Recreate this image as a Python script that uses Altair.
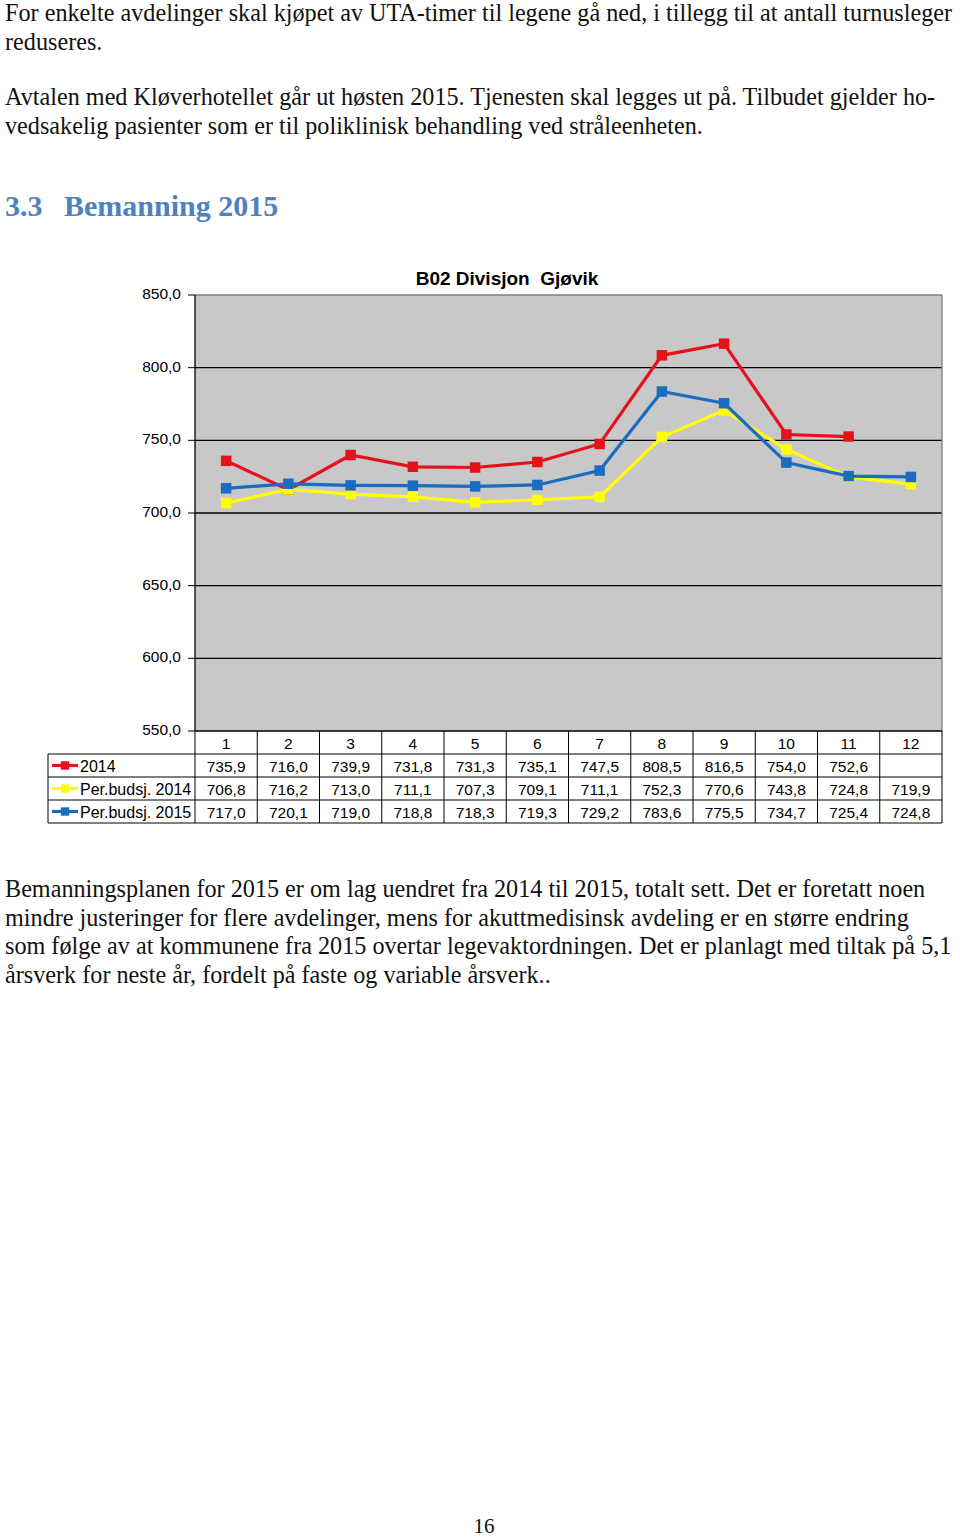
import altair as alt
import pandas as pd

# ---------------- data ----------------
months = list(range(1, 13))
series_names = ["2014", "Per.budsj. 2014", "Per.budsj. 2015"]
v_2014 = [735.9, 716.0, 739.9, 731.8, 731.3, 735.1, 747.5, 808.5, 816.5, 754.0, 752.6, None]
v_pb2014 = [706.8, 716.2, 713.0, 711.1, 707.3, 709.1, 711.1, 752.3, 770.6, 743.8, 724.8, 719.9]
v_pb2015 = [717.0, 720.1, 719.0, 718.8, 718.3, 719.3, 729.2, 783.6, 775.5, 734.7, 725.4, 724.8]
series_colors = ["#E4121B", "#FFFF00", "#1A6CC0"]
y_ticks = [550, 600, 650, 700, 750, 800, 850]
chart_title = "B02 Divisjon\u00a0 Gjøvik"

para1 = [
    "For enkelte avdelinger skal kjøpet av UTA-timer til legene gå ned, i tillegg til at antall turnusleger",
    "reduseres.",
]
para2 = [
    "Avtalen med Kløverhotellet går ut høsten 2015. Tjenesten skal legges ut på. Tilbudet gjelder ho-",
    "vedsakelig pasienter som er til poliklinisk behandling ved stråleenheten.",
]
heading_num = "3.3"
heading_txt = "Bemanning 2015"
para3 = [
    "Bemanningsplanen for 2015 er om lag uendret fra 2014 til 2015, totalt sett. Det er foretatt noen",
    "mindre justeringer for flere avdelinger, mens for akuttmedisinsk avdeling er en større endring",
    "som følge av at kommunene fra 2015 overtar legevaktordningen. Det er planlagt med tiltak på 5,1",
    "årsverk for neste år, fordelt på faste og variable årsverk..",
]
page_no = "16"

# ---------------- tables ----------------
def fmt(v):
    return "" if v is None else f"{v:.1f}".replace(".", ",")

rows = []
for name, vals in zip(series_names, [v_2014, v_pb2014, v_pb2015]):
    for m, v in zip(months, vals):
        rows.append({"month": m, "series": name, "value": v, "label": fmt(v)})
df = pd.DataFrame(rows)
df_valid = df[df["value"].notna()].copy()

ticks_df = pd.DataFrame({"tick": y_ticks, "label": [fmt(float(t)) for t in y_ticks]})
months_df = pd.DataFrame({"month": months, "label": [str(m) for m in months]})
borders_df = pd.DataFrame({"b": [m - 0.5 for m in months] + [12.5]})
span_df = pd.DataFrame({"lo": [min(y_ticks)], "hi": [max(y_ticks)]})
dummy = pd.DataFrame({"d": [0]})

xs = alt.Scale(domain=[0.5, 12.5], range=[195, 942])
ys = alt.Scale(domain=[550, 850], range=[731, 295])
cs = alt.Scale(domain=series_names, range=series_colors)

SANS = "Liberation Sans"
SERIF = "Liberation Serif"
BODY = 24.2
TBL = 15.5


def txt(s, x, y, size=BODY, font=SERIF, align="left", color="#111111", weight="normal"):
    return alt.Chart(dummy).mark_text(
        text=s, align=align, baseline="alphabetic", font=font, fontSize=size, color=color, fontWeight=weight
    ).encode(x=alt.value(x), y=alt.value(y))


def hline(x1, x2, y, color="black", w=1.0):
    return alt.Chart(dummy).mark_rule(color=color, strokeWidth=w).encode(
        x=alt.value(x1), x2=alt.value(x2), y=alt.value(y)
    )


def vline(x, y1, y2, color="black", w=1.0):
    return alt.Chart(dummy).mark_rule(color=color, strokeWidth=w).encode(
        x=alt.value(x), y=alt.value(y1), y2=alt.value(y2)
    )


layers = []

# plot background (first, with the scales)
layers.append(alt.Chart(span_df).mark_rect(color="#C8C8C8").encode(
    x=alt.value(195), x2=alt.value(942),
    y=alt.Y("hi:Q", scale=ys, axis=None), y2="lo:Q"))

# page text
for i, s in enumerate(para1):
    layers.append(txt(s, 5, 21 + i * 28.5))
for i, s in enumerate(para2):
    layers.append(txt(s, 5, 105 + i * 28.5))
layers.append(txt(heading_num, 5, 216, size=30, color="#4F81BD", weight="bold"))
layers.append(txt(heading_txt, 64, 216, size=30, color="#4F81BD", weight="bold"))
for i, s in enumerate(para3):
    layers.append(txt(s, 5, 897 + i * 28.7))
layers.append(txt(page_no, 484, 1533, size=21, align="center"))

# chart title
layers.append(txt(chart_title, 507, 285, size=19, font=SANS, align="center", weight="bold", color="black"))

# gridlines
layers.append(alt.Chart(ticks_df).transform_filter("datum.tick > 550 && datum.tick < 850").mark_rule(
    color="black", strokeWidth=1.3).encode(
    x=alt.value(195), x2=alt.value(942),
    y=alt.Y("tick:Q", scale=ys, axis=None)))
layers.append(alt.Chart(ticks_df).transform_filter("datum.tick == 850").mark_rule(
    color="#808080", strokeWidth=1.3).encode(
    x=alt.value(195), x2=alt.value(942),
    y=alt.Y("tick:Q", scale=ys, axis=None)))
layers.append(vline(942, 295, 731, color="#808080", w=1.3))
layers.append(vline(195, 295, 731, color="black", w=1.3))

# y axis: tick marks and labels
layers.append(alt.Chart(ticks_df).mark_rule(color="black", strokeWidth=1).encode(
    x=alt.value(188), x2=alt.value(195), y=alt.Y("tick:Q", scale=ys, axis=None)))
layers.append(alt.Chart(ticks_df).mark_text(align="right", baseline="middle", font=SANS, fontSize=TBL,
                                            color="black", dy=-1).encode(
    x=alt.value(181), y=alt.Y("tick:Q", scale=ys, axis=None), text="label:N"))

# series lines + markers
for name in series_names:
    sub = df_valid[df_valid["series"] == name]
    base = alt.Chart(sub).encode(
        x=alt.X("month:Q", scale=xs, axis=None),
        y=alt.Y("value:Q", scale=ys, axis=None),
        color=alt.Color("series:N", scale=cs, legend=None),
    )
    layers.append(base.mark_line(strokeWidth=3.2))
    layers.append(base.mark_square(size=110, opacity=1, filled=True))

# table borders
T_TOP, ROW_H = 731, 23
for k in range(1, 5):
    layers.append(hline(48, 942, T_TOP + k * ROW_H))
layers.append(hline(195, 942, T_TOP, w=1.3))
layers.append(alt.Chart(borders_df).mark_rule(color="black", strokeWidth=1).encode(
    x=alt.X("b:Q", scale=xs, axis=None), y=alt.value(T_TOP), y2=alt.value(T_TOP + 4 * ROW_H)))
layers.append(vline(48, T_TOP + ROW_H, T_TOP + 4 * ROW_H))

# header row
layers.append(alt.Chart(months_df).mark_text(baseline="middle", font=SANS, fontSize=TBL, color="black").encode(
    x=alt.X("month:Q", scale=xs, axis=None), y=alt.value(T_TOP + ROW_H / 2 + 1), text="label:N"))

# data rows
for i, name in enumerate(series_names):
    yc = T_TOP + ROW_H * (i + 1) + ROW_H / 2 + 1
    sub = df[df["series"] == name]
    layers.append(alt.Chart(sub).mark_text(baseline="middle", font=SANS, fontSize=TBL, color="black").encode(
        x=alt.X("month:Q", scale=xs, axis=None), y=alt.value(yc), text="label:N"))
    key = pd.DataFrame({"series": [name]})
    layers.append(alt.Chart(key).mark_rule(strokeWidth=3.2).encode(
        x=alt.value(52), x2=alt.value(78), y=alt.value(yc - 1),
        color=alt.Color("series:N", scale=cs, legend=None)))
    layers.append(alt.Chart(key).mark_square(size=70, opacity=1, filled=True).encode(
        x=alt.value(65), y=alt.value(yc - 1),
        color=alt.Color("series:N", scale=cs, legend=None)))
    layers.append(alt.Chart(dummy).mark_text(text=name, align="left", baseline="middle", font=SANS,
                                             fontSize=TBL + 0.5, color="black").encode(
        x=alt.value(80), y=alt.value(yc)))

chart = alt.layer(*layers).properties(
    width=960, height=1537, padding=0, autosize=alt.AutoSizeParams(type="none"),
    background="white",
).configure_view(stroke=None)

chart.save("out.html", embed_options={"renderer": "svg", "actions": False})
